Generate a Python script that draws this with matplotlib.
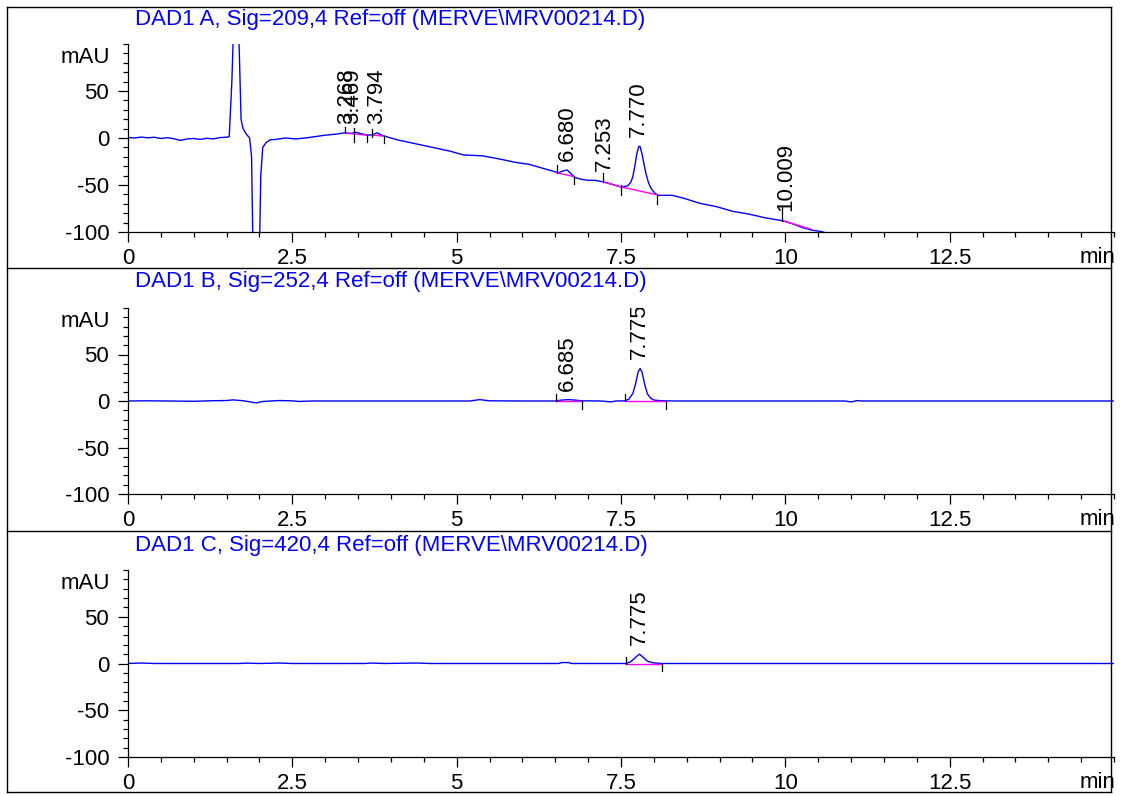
import numpy as np
import matplotlib
matplotlib.use('Agg')
import matplotlib.pyplot as plt
from matplotlib.lines import Line2D
from matplotlib.ticker import MultipleLocator
import matplotlib.transforms as mtransforms

plt.rcParams['font.family'] = ['Liberation Sans', 'DejaVu Sans']
plt.rcParams['font.size'] = 16
plt.rcParams['axes.unicode_minus'] = False

W, H = 1123, 796

# ---- data ----
titles = ['DAD1 A, Sig=209,4 Ref=off (MERVE\\MRV00214.D)',
          'DAD1 B, Sig=252,4 Ref=off (MERVE\\MRV00214.D)',
          'DAD1 C, Sig=420,4 Ref=off (MERVE\\MRV00214.D)']

t_a = [0.00, 0.10, 0.20, 0.30, 0.40, 0.50, 0.60, 0.70, 0.80, 0.90, 1.00, 1.10, 1.20, 1.30,
       1.40, 1.50, 1.54, 1.58, 1.62, 1.66, 1.69, 1.72, 1.75, 1.80, 1.85, 1.88, 1.91, 1.99,
       2.02, 2.05, 2.10, 2.16, 2.25, 2.40, 2.55, 2.70, 2.85, 3.00, 3.15, 3.30, 3.40, 3.47,
       3.55, 3.65, 3.72, 3.79, 3.86, 3.95, 4.10, 4.30, 4.50, 4.70, 4.90, 5.10, 5.25, 5.40,
       5.55, 5.70, 5.90, 6.10, 6.30, 6.50, 6.55, 6.62, 6.68, 6.74, 6.80, 6.90, 7.00, 7.10,
       7.22, 7.35, 7.50, 7.60, 7.65, 7.68, 7.71, 7.74, 7.77, 7.79, 7.82, 7.85, 7.88, 7.92,
       7.97, 8.02, 8.07, 8.15, 8.28, 8.45, 8.70, 8.95, 9.20, 9.45, 9.70, 9.96, 10.10, 10.25,
       10.40, 10.55, 10.70]
y_a = [0.5, 0.0, 1.0, 0.2, 0.8, -0.5, 0.3, -0.8, -2.5, -1.0, -0.5, -1.5, -0.3, -1.0,
       0.5, 0.8, 1.5, 60, 150, 150, 100, 20, 10, 4, 0, -20, -160, -160,
       -40, -10, -5, -2, -1.5, 0, -1, 0, 1.5, 3, 4, 5.5, 5, 6,
       4.5, 3, 3.5, 5.5, 3, 1, -2, -5, -8, -11, -14, -18, -18.5, -19,
       -21, -23, -26, -28, -32, -36, -37, -35, -34, -38, -42, -44, -45, -45,
       -46.5, -49, -52, -51, -47, -41, -30, -17, -9, -9, -17, -28, -38, -48,
       -55, -59, -61, -61, -61, -64, -69.5, -73, -78, -81, -85, -88, -91, -95,
       -98, -99.5, -103]

t_b = [0.0, 0.3, 0.6, 1.0, 1.3, 1.5, 1.6, 1.75, 1.9, 1.96, 2.05, 2.3, 2.5, 2.6, 2.8, 3.5,
       4.5, 5.2, 5.35, 5.5, 6.0, 6.5, 6.6, 6.7, 6.8, 6.9, 7.2, 7.35, 7.42, 7.56, 7.62, 7.68,
       7.72, 7.76, 7.79, 7.82, 7.86, 7.90, 7.95, 8.0, 8.1, 8.3, 10.9, 11.0, 11.1, 11.15, 15.0]
y_b = [0, 0.2, 0, -0.3, 0.3, 0.5, 1.2, 0.3, -1.5, -2, -0.5, 0.5, 0.2, -0.5, 0, 0,
       0, 0, 1.5, 0.2, 0, 0, 1.0, 1.5, 1.0, 0.2, 0, -1, 0, 0.2, 2, 8,
       18, 31, 35, 31, 18, 8, 3, 1, 0.3, 0, 0, -1, 0.5, 0, 0]

t_c = [0.0, 0.2, 0.4, 1.7, 1.8, 2.0, 2.3, 2.5, 3.6, 3.7, 3.9, 4.4, 4.6, 6.55, 6.6, 6.7,
       6.75, 7.58, 7.65, 7.72, 7.78, 7.84, 7.90, 7.98, 8.12, 15.0]
y_c = [0, 0.5, 0, 0, 0.4, 0, 0.5, 0, 0, 0.5, 0, 0.5, 0, 0, 1, 1,
       0, 0, 2, 6.5, 10, 6.5, 2.5, 0.8, 0, 0]

# peak labels: (text, label position, apex value)
labels_a = [('3.268', 3.33, 5.5), ('3.469', 3.42, 5.5), ('3.794', 3.78, 5.0),
            ('6.680', 6.680, -34), ('7.253', 7.253, -45), ('7.770', 7.770, -8.5),
            ('10.009', 10.009, -87)]
labels_b = [('6.685', 6.685, 1.5), ('7.775', 7.775, 35)]
labels_c = [('7.775', 7.775, 10)]

# integration baselines: (t0, y0, t1, y1)
base_a = [(3.33, 5.0, 3.63, 3.0), (3.72, 3.0, 3.90, 2.0), (6.52, -37, 6.78, -41),
          (7.22, -46.5, 7.50, -52), (7.50, -52, 8.05, -60.5), (9.96, -88, 10.39, -97)]
base_b = [(6.51, 0, 6.91, 0), (7.56, 0, 8.19, 0)]
base_c = [(7.58, 0, 8.12, 0)]

# peak start/end marks: (time, y, y_end)
marks_a = [(3.30, 5.5, 11.5), (3.44, 10.5, -4.5), (3.63, 3.0, -4.5), (3.71, 9.5, 1.0),
           (3.90, 2.0, -5.5), (6.52, -37, -29), (6.78, -41, -49), (7.22, -46.5, -37.5),
           (7.50, -50, -60.5), (8.05, -60.5, -70), (9.95, -88, -72)]
marks_b = [(6.51, 0, 8), (6.91, 0, -9), (7.56, 0, 8), (8.19, 0, -9)]
marks_c = [(7.58, 0, 7), (8.12, 0, -8.5)]

panels = [(t_a, y_a, labels_a, base_a, marks_a),
          (t_b, y_b, labels_b, base_b, marks_b),
          (t_c, y_c, labels_c, base_c, marks_c)]

# axes pixel extents (top, bottom) and panel title positions
ax_px = [(44, 232), (308, 494), (570, 757)]
title_y = [19, 282, 545]

fig = plt.figure(figsize=(W / 100, H / 100), dpi=100)

# panel frames
fr = dict(color='black', lw=1.0, transform=fig.transFigure)
x0, x1 = 7 / W, 1111 / W
for yy in [7, 268, 531, 792]:
    fig.add_artist(Line2D([x0, x1], [1 - yy / H, 1 - yy / H], **fr))
fig.add_artist(Line2D([x0, x0], [1 - 7 / H, 1 - 792 / H], **fr))
fig.add_artist(Line2D([x1, x1], [1 - 7 / H, 1 - 792 / H], **fr))

for i, (t, y, labs, bases, marks) in enumerate(panels):
    top, bot = ax_px[i]
    ax = fig.add_axes([128 / W, 1 - bot / H, (1114 - 128) / W, (bot - top) / H])
    ax.patch.set_alpha(0)
    ax.plot(t, y, color='#0000ff', lw=1.0)
    for (a0, b0, a1, b1) in bases:
        ax.plot([a0, a1], [b0, b1], color='#ff00ff', lw=1.0)
    for (tm, ya, yb) in marks:
        ax.plot([tm, tm], [ya, yb], color='black', lw=0.9)
    off = mtransforms.offset_copy(ax.transData, fig=fig, x=0, y=6.5, units='points')
    for (s, rt, yv) in labs:
        ax.text(rt, yv, s, rotation=90, ha='center', va='bottom', transform=off,
                clip_on=True, fontsize=16)
    ax.set_xlim(0, 15)
    ax.set_ylim(-100, 100)
    ax.set_xticks([0, 2.5, 5, 7.5, 10, 12.5])
    ax.set_xticklabels(['0', '2.5', '5', '7.5', '10', '12.5'])
    ax.xaxis.set_minor_locator(MultipleLocator(0.5))
    ax.set_yticks([-100, -50, 0, 50])
    ax.yaxis.set_minor_locator(MultipleLocator(10))
    ax.tick_params(which='major', direction='out', length=7.5, width=0.9, pad=4)
    ax.tick_params(axis='y', which='major', pad=6)
    ax.tick_params(which='minor', direction='out', length=3.6, width=0.9)
    for sp in ['top', 'right']:
        ax.spines[sp].set_visible(False)
    for sp in ['left', 'bottom']:
        ax.spines[sp].set_linewidth(0.9)
    ax.annotate('mAU', xy=(0, 1), xycoords='axes fraction', xytext=(-13, -9.5),
                textcoords='offset points', ha='right', va='center')
    ax.annotate('min', xy=(1, 0), xycoords='axes fraction', xytext=(1, -22.3),
                textcoords='offset points', ha='right', va='baseline')
    fig.text(135 / W, 1 - title_y[i] / H, titles[i], color='#0000ff', ha='left',
             va='center', fontsize=16)

fig.savefig('out.png', dpi=100)
